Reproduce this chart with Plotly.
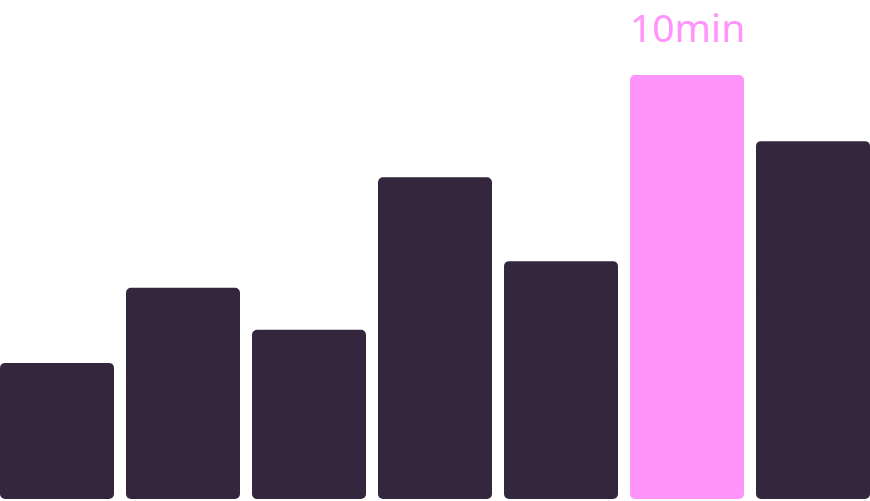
import plotly.graph_objects as go

categories = ["1", "2", "3", "4", "5", "6", "7"]
values = [3.21, 4.98, 3.99, 7.59, 5.61, 10.0, 8.44]
highlight_index = 5
highlight_label = "10min"

dark = "#34273d"
pink = "#ff94fb"
colors = [pink if i == highlight_index else dark for i in range(len(values))]
xs = list(range(len(values)))
bar_w = [114 / 126] * len(values)

fig = go.Figure()
# upper part: rounded top corners
fig.add_trace(go.Bar(
    x=xs, base=[v * 0.4 for v in values], y=[v * 0.6 for v in values], width=bar_w,
    marker=dict(color=colors, cornerradius=5, line=dict(width=0)),
    hoverinfo="skip",
))
# lower part: rounded bottom corners (bar drawn downward to 0)
fig.add_trace(go.Bar(
    x=xs, base=[v * 0.6 for v in values], y=[-v * 0.6 for v in values], width=bar_w,
    marker=dict(color=colors, cornerradius=5, line=dict(width=0)),
    hoverinfo="skip",
))
fig.add_annotation(
    x=xs[highlight_index], y=values[highlight_index], text=highlight_label,
    showarrow=False, yanchor="bottom", yshift=20,
    font=dict(family="Noto Sans", size=39, color=pink),
)
px_per_unit = 42.4
fig.update_layout(
    width=870, height=501, margin=dict(l=0, r=0, t=0, b=0),
    paper_bgcolor="white", plot_bgcolor="white", showlegend=False,
    barmode="overlay",
    xaxis=dict(range=[-57 / 126, 6 + 57 / 126], visible=False, fixedrange=True),
    yaxis=dict(range=[-2 / px_per_unit, 499 / px_per_unit], visible=False, fixedrange=True),
)
fig.write_html("out.html", config={"displayModeBar": False},
               post_script="document.body.style.margin='0';")
